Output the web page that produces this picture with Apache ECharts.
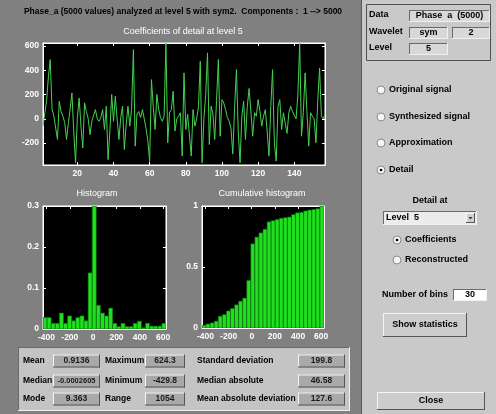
<!DOCTYPE html>
<html><head><meta charset="utf-8">
<script src="https://cdn.jsdelivr.net/npm/echarts@6/dist/echarts.min.js"></script>
<style>html,body{margin:0;padding:0;background:#808080}#c{width:496px;height:414px}</style>
</head><body><div id="c"></div>
<script>
// ---- data ----
const signalValues = [
 -60,-74,150,350,488,80,22,10,-170,145,
 60,22,-30,-170,-40,80,213,-100,-362,10,
 172,-60,-240,131,60,0,-130,-20,30,76,
 0,-20,10,76,-88,104,-335,-100,200,-20,
 186,0,-170,10,104,-253,-50,104,-60,76,
 570,-225,40,60,10,76,0,-80,-180,-350,
 323,100,-88,200,76,10,-20,22,624,-197,
 50,76,227,-100,0,22,50,-307,378,-88,
 40,35,-307,76,-60,0,100,474,-362,0,
 200,543,-211,104,40,-170,150,488,-143,158,
 130,76,10,-20,-80,-290,100,405,-100,-362,
 22,145,-170,100,250,60,-143,50,22,158,
 60,-60,22,76,-100,-307,100,405,-200,-348,
 100,158,-88,50,40,-120,50,104,60,76,
 0,200,624,-143,50,378,60,-225,50,22,
 0,-197,150,419,22,0,40
];
const signalXMin = 1, signalXMax = 157;
const signalYMin = -380, signalYMax = 624.3;
const signalXTicks = [20,40,60,80,100,120,140];
const signalYTicks = [-200,0,200,400,600];

const histDataMin = -429.8, histDataMax = 624.3, histBins = 30;
const histHeights = [
 0.028,0.028,0.014,0.014,0.039,0.014,0.032,0.020,0.028,0.032,
 0.020,0.137,0.300,0.058,0.039,0.032,0.051,0.014,0.006,0.014,
 0.006,0.006,0.014,0.019,0.003,0.014,0.007,0.007,0.007,0.014
];
const cumHeights = [
 0.022,0.033,0.042,0.056,0.097,0.110,0.140,0.160,0.190,0.220,
 0.245,0.390,0.690,0.745,0.780,0.810,0.870,0.880,0.890,0.900,
 0.905,0.910,0.930,0.945,0.948,0.960,0.967,0.972,0.978,1.000
];
const histXTicks = [-400,-200,0,200,400,600];
const histYTicks = [0,0.1,0.2,0.3];
const cumYTicks = [0,0.5,1];

const titleText = 'Phase_a (5000 values) analyzed at level 5 with sym2.  Components :  1 --> 5000';
const statLabels = [['Mean','Median','Mode'],['Maximum','Minimum','Range'],['Standard deviation','Median absolute','Mean absolute deviation']];
const statValues = [['0.9136','-0.0002605','9.363'],['624.3','-429.8','1054'],['199.8','46.58','127.6']];
const radioLabels = ['Original signal','Synthesized signal','Approximation','Detail'];
const radioLabels2 = ['Coefficients','Reconstructed'];

// ---- chart ----
const FF = '"Liberation Sans", Arial, sans-serif';
const chart = echarts.init(document.getElementById('c'), null, {renderer:'canvas'});

function ax(type, gi, min, max, ticks, pos, labels){
  return {type:'value', gridIndex:gi, min, max, position:pos,
    axisLine:{show:true, onZero:false, lineStyle:{color:'#ffffff', width:1}},
    axisTick:{show:true, inside:true, length:3, customValues:ticks, lineStyle:{color:'#ffffff'}},
    axisLabel:{show:labels, customValues:ticks, color:'#ffffff', fontSize:8.5, fontWeight:'bold', fontFamily:FF, margin:4},
    splitLine:{show:false}};
}

const binW = (histDataMax - histDataMin) / histBins;
const histData = histHeights.map((h,i)=>[histDataMin+i*binW, histDataMin+(i+1)*binW, h]);
const cumData = cumHeights.map((h,i)=>[histDataMin+i*binW, histDataMin+(i+1)*binW, h]);
function barRender(params, api){
  const p0 = api.coord([api.value(0), 0]);
  const p1 = api.coord([api.value(1), api.value(2)]);
  return {type:'rect', shape:{x:p0[0], y:p1[1], width:p1[0]-p0[0], height:p0[1]-p1[1]},
    style:{fill:'#1fe01f', stroke:'#0b600b', lineWidth:0.6}};
}

// graphic helpers
function T(x,y,text,o){
  o = o||{};
  return {type:'text', x, y, z:100, silent:true, style:{text, fill:o.fill||'#000', font:(o.weight||'bold')+' '+(o.size||9)+'px '+FF,
    textAlign:o.align||'left', textVerticalAlign:'middle', align:o.align||'left', verticalAlign:'middle'}};
}
function R(x,y,w,h,fill,stroke,z){
  return {type:'rect', z:z||10, silent:true, shape:{x,y,width:w,height:h}, style:{fill, stroke:stroke||null, lineWidth:1}};
}
function L(x1,y1,x2,y2,c,z){
  return {type:'line', z:z||11, silent:true, shape:{x1,y1,x2,y2}, style:{stroke:c, lineWidth:1}};
}
function bevel(x,y,w,h,fill,sunken){
  const lt = sunken ? '#6a6a6a' : '#f4f4f4';
  const rb = sunken ? '#f0f0f0' : '#555555';
  return [R(x,y,w,h,fill,null,10), L(x,y+0.5,x+w,y+0.5,lt), L(x+0.5,y,x+0.5,y+h,lt),
    L(x,y+h-0.5,x+w,y+h-0.5,rb), L(x+w-0.5,y,x+w-0.5,y+h,rb)];
}
function radio(cx,cy,checked){
  const g = [{type:'circle', z:12, silent:true, shape:{cx,cy,r:4}, style:{fill:'#f6f6f6', stroke:'#8a8a8a', lineWidth:1}}];
  if(checked) g.push({type:'circle', z:13, silent:true, shape:{cx,cy,r:1.3}, style:{fill:'#000'}});
  return g;
}

let G = [];
// right panel
G.push(R(361,0,135,414,'#c9c9c9',null,5));
G.push(L(361.5,0,361.5,414,'#5a5a5a',6));
// info box
G.push(R(366.5,4.5,124,56,null,'#505050',9));
G.push(T(369,15,'Data'), T(369,32,'Wavelet'), T(369,48,'Level'));
G = G.concat(bevel(409,10,81,12,'#d8d8d8',true), bevel(409,27,39,12,'#d8d8d8',true), bevel(452,27,38,12,'#d8d8d8',true), bevel(409,43,39,12,'#d8d8d8',true));
G.push(T(449.5,16,'Phase  a  (5000)',{align:'center'}), T(428.5,33,'sym',{align:'center'}), T(471,33,'2',{align:'center'}), T(428.5,49,'5',{align:'center'}));
// radios
const ry = [90,117,143,170];
radioLabels.forEach((t,i)=>{ G = G.concat(radio(381,ry[i], i===3)); G.push(T(389,ry[i],t)); });
G.push(T(430,201,'Detail at',{align:'center'}));
G = G.concat(bevel(383,211,94,14,'#ececec',true));
G = G.concat(bevel(466,213,9,10,'#d0d0d0',false));
G.push({type:'polygon', z:14, silent:true, shape:{points:[[468.5,217],[472.5,217],[470.5,219.5]]}, style:{fill:'#333'}});
G.push(T(386,218,'Level  5'));
const ry2 = [240,260];
radioLabels2.forEach((t,i)=>{ G = G.concat(radio(397,ry2[i], i===0)); G.push(T(405,ry2[i],t)); });
G.push(T(382,295,'Number of bins'));
G = G.concat(bevel(453,289,34,12,'#ffffff',true));
G.push(T(470,295,'30',{align:'center'}));
G = G.concat(bevel(383,313,84,24,'#cccccc',false));
G.push(T(425,325,'Show statistics',{align:'center'}));
G = G.concat(bevel(377,392,108,18,'#cccccc',false));
G.push(T(431,401,'Close',{align:'center'}));

// left titles
G.push(T(183,12,titleText,{align:'center', size:8.5}));
G.push(T(183,32,'Coefficients of detail at level 5',{align:'center', fill:'#ffffff', weight:'normal', size:9}));
G.push(T(97,194,'Histogram',{align:'center', fill:'#ffffff', weight:'normal', size:9}));
G.push(T(262,194,'Cumulative histogram',{align:'center', fill:'#ffffff', weight:'normal', size:9}));

// stats box
G = G.concat(bevel(18,347,332,64,'#c4c4c4',true));
const rowsY = [361,381,399];
const labX = [23,105,197];
const boxX = [[53,47],[145,40],[298,47]];
for(let c=0;c<3;c++){
  for(let r=0;r<3;r++){
    G.push(T(labX[c], rowsY[r], statLabels[c][r], {size:8.5}));
    G = G.concat(bevel(boxX[c][0], rowsY[r]-6.5, boxX[c][1], 13, '#a9a9a9', false));
    G.push(T(boxX[c][0]+boxX[c][1]/2, rowsY[r], statValues[c][r], {align:'center', size:c===0&&r===1?7.5:8.5, fill:'#1a1a1a'}));
  }
}

const option = {
  backgroundColor:'#808080',
  animation:false,
  grid:[
    {left:43, top:43, width:282, height:122, show:true, backgroundColor:'#000', borderColor:'#fff', borderWidth:1},
    {left:43, top:206, width:123, height:123, show:true, backgroundColor:'#000', borderColor:'#fff', borderWidth:1},
    {left:202, top:206, width:122, height:122, show:true, backgroundColor:'#000', borderColor:'#fff', borderWidth:1}
  ],
  xAxis:[
    ax('x',0, signalXMin, signalXMax, signalXTicks, 'bottom', true),
    ax('x',0, signalXMin, signalXMax, signalXTicks, 'top', false),
    ax('x',1, histDataMin, histDataMax, histXTicks, 'bottom', true),
    ax('x',1, histDataMin, histDataMax, histXTicks, 'top', false),
    ax('x',2, histDataMin, histDataMax, histXTicks, 'bottom', true),
    ax('x',2, histDataMin, histDataMax, histXTicks, 'top', false)
  ],
  yAxis:[
    ax('y',0, signalYMin, signalYMax, signalYTicks, 'left', true),
    ax('y',0, signalYMin, signalYMax, signalYTicks, 'right', false),
    ax('y',1, 0, 0.3, histYTicks, 'left', true),
    ax('y',1, 0, 0.3, histYTicks, 'right', false),
    ax('y',2, 0, 1, cumYTicks, 'left', true),
    ax('y',2, 0, 1, cumYTicks, 'right', false)
  ],
  series:[
    {type:'line', xAxisIndex:0, yAxisIndex:0, data: signalValues.map((v,i)=>[signalXMin+i, v]),
      showSymbol:false, lineStyle:{color:'#45d150', width:1}, clip:true},
    {type:'custom', xAxisIndex:2, yAxisIndex:2, renderItem:barRender, data:histData, clip:true},
    {type:'custom', xAxisIndex:4, yAxisIndex:4, renderItem:barRender, data:cumData, clip:true}
  ],
  graphic:{elements:G}
};
chart.setOption(option);
</script></body></html>
